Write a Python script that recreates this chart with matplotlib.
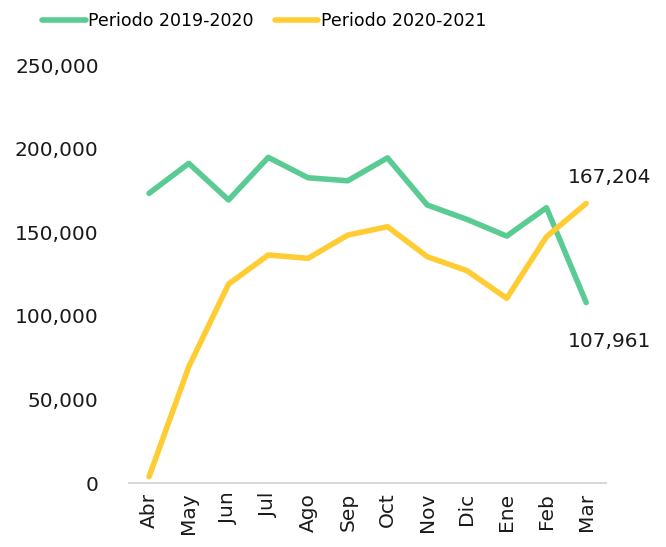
import matplotlib
matplotlib.use("Agg")
import matplotlib.pyplot as plt
from matplotlib.ticker import FuncFormatter

# months and values
meses = ["Abr", "May", "Jun", "Jul", "Ago", "Sep", "Oct", "Nov", "Dic", "Ene", "Feb", "Mar"]
periodo_2019_2020 = [173300, 191200, 169300, 194800, 182600, 180800, 194500, 166300, 157700, 147700, 164700, 107961]
periodo_2020_2021 = [3800, 69600, 119000, 136400, 134400, 148300, 153300, 135400, 127000, 110500, 147300, 167204]

verde = "#5BCB94"
amarillo = "#FFCD33"

plt.rcParams["font.family"] = ["DejaVu Sans"]

fig = plt.figure(figsize=(6.66, 5.47), dpi=100)
ax = fig.add_axes([0.194, 0.117, 0.716, 0.764])

x = range(len(meses))
ax.plot(x, periodo_2019_2020, color=verde, lw=4, solid_capstyle="round",
        solid_joinstyle="round", label="Periodo 2019-2020")
ax.plot(x, periodo_2020_2021, color=amarillo, lw=4, solid_capstyle="round",
        solid_joinstyle="round", label="Periodo 2020-2021")

# labels at the last point
ax.annotate(f"{periodo_2020_2021[-1]:,}", (11, periodo_2020_2021[-1]), xytext=(17, 19),
            textcoords="offset points", ha="center", va="center", fontsize=14.5, color="#1a1a1a")
ax.annotate(f"{periodo_2019_2020[-1]:,}", (11, periodo_2019_2020[-1]), xytext=(17, -28),
            textcoords="offset points", ha="center", va="center", fontsize=14.5, color="#1a1a1a")

ax.set_xlim(-0.5, 11.5)
ax.set_ylim(0, 250000)
ax.set_yticks(range(0, 250001, 50000))
ax.yaxis.set_major_formatter(FuncFormatter(lambda v, p: f"{int(v):,}"))
ax.set_xticks(list(x))
ax.set_xticklabels(meses, rotation=90)

for s in ["top", "right", "left"]:
    ax.spines[s].set_visible(False)
ax.spines["bottom"].set_color("#D9D9D9")
ax.spines["bottom"].set_linewidth(1.5)
ax.tick_params(axis="both", length=0, labelsize=14.5, colors="#1a1a1a")
ax.tick_params(axis="y", pad=22)
ax.tick_params(axis="x", pad=7)

fig.legend(loc="upper left", bbox_to_anchor=(0.04, 1.006), ncol=2, frameon=False,
           fontsize=12.5, handlelength=2.5, handletextpad=0.15, columnspacing=1.2)

fig.savefig("out.png", dpi=100)
